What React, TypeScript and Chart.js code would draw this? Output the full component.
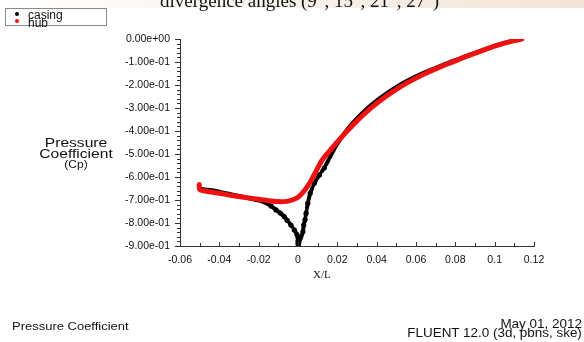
import React, { useEffect, useRef } from 'react';
import { Chart, registerables } from 'chart.js';

Chart.register(...registerables);

// ---- data ----
const casingX = [-0.0495, -0.045, -0.0427, -0.038, -0.0325, -0.027, -0.0197, -0.016, -0.0137, -0.0112, -0.009, -0.007, -0.0055, -0.0036, -0.0019, -0.0005, 0, 0, 0, 0.0002, 0.0025, 0.0029, 0.0036, 0.0041, 0.005, 0.0062, 0.0083, 0.0109, 0.0134, 0.016, 0.019, 0.022, 0.025, 0.03, 0.035, 0.04, 0.045, 0.05, 0.055, 0.06, 0.065, 0.07, 0.075, 0.08, 0.085, 0.09, 0.095, 0.1, 0.105, 0.11, 0.1135];
const casingY = [-0.652, -0.656, -0.659, -0.668, -0.678, -0.688, -0.703, -0.715, -0.726, -0.743, -0.757, -0.772, -0.788, -0.809, -0.830, -0.850, -0.862, -0.878, -0.890, -0.897, -0.838, -0.809, -0.785, -0.758, -0.714, -0.671, -0.627, -0.591, -0.560, -0.518, -0.470, -0.430, -0.393, -0.345, -0.303, -0.268, -0.237, -0.209, -0.184, -0.162, -0.143, -0.125, -0.108, -0.092, -0.076, -0.060, -0.045, -0.030, -0.017, -0.006, 0.000];

const hubX = [-0.0502, -0.05, -0.048, -0.045, -0.04, -0.035, -0.03, -0.025, -0.02, -0.015, -0.01, -0.006, -0.003, 0, 0.003, 0.006, 0.009, 0.012, 0.015, 0.02, 0.025, 0.03, 0.035, 0.04, 0.045, 0.05, 0.055, 0.06, 0.065, 0.07, 0.075, 0.08, 0.085, 0.09, 0.095, 0.1, 0.105, 0.11, 0.1138];
const hubY = [-0.633, -0.655, -0.660, -0.664, -0.671, -0.678, -0.685, -0.691, -0.697, -0.703, -0.707, -0.706, -0.700, -0.688, -0.662, -0.625, -0.578, -0.530, -0.497, -0.447, -0.400, -0.356, -0.316, -0.280, -0.248, -0.219, -0.193, -0.170, -0.149, -0.130, -0.112, -0.095, -0.078, -0.062, -0.046, -0.031, -0.018, -0.007, 0.000];

const seriesNames = ['casing', 'hub'];

const xTickValues = [-0.06, -0.04, -0.02, 0, 0.02, 0.04, 0.06, 0.08, 0.1, 0.12];
const xTickLabels = ['-0.06', '-0.04', '-0.02', '0', '0.02', '0.04', '0.06', '0.08', '0.1', '0.12'];
const yTickValues = [0, -0.1, -0.2, -0.3, -0.4, -0.5, -0.6, -0.7, -0.8, -0.9];
const yTickLabels = ['0.00e+00', '-1.00e-01', '-2.00e-01', '-3.00e-01', '-4.00e-01', '-5.00e-01', '-6.00e-01', '-7.00e-01', '-8.00e-01', '-9.00e-01'];

const headerText = 'divergence angles (9°, 15°, 21°, 27°)';
const xTitle = 'X/L';
const yTitleLines = ['Pressure', 'Coefficient', '(Cp)'];
const footerLeft = 'Pressure Coefficient';
const footerRight = ['May 01, 2012', 'FLUENT 12.0 (3d, pbns, ske)'];

const zip = (xs: number[], ys: number[]) => xs.map((x, i) => ({ x, y: ys[i] }));

const SANS = '"Liberation Sans", Arial, Helvetica, sans-serif';
const SERIF = '"Liberation Serif", "Times New Roman", serif';

const tickMarks = {
  id: 'fluentTicks',
  afterDraw(chart: any) {
    const { ctx, chartArea } = chart;
    const x = chart.scales.x;
    const y = chart.scales.y;
    ctx.save();
    ctx.strokeStyle = '#333';
    ctx.lineWidth = 1;
    for (let i = 0; i <= 45; i++) {
      const v = -i * 0.02;
      const py = Math.round(y.getPixelForValue(v)) + 0.5;
      const len = i % 5 === 0 ? 5 : 3;
      ctx.beginPath();
      ctx.moveTo(chartArea.left - len, py);
      ctx.lineTo(chartArea.left, py);
      ctx.stroke();
    }
    for (let i = 0; i <= 18; i++) {
      const v = -0.06 + i * 0.01;
      const px = Math.round(x.getPixelForValue(v)) + 0.5;
      const len = i % 2 === 0 ? 4 : 3;
      ctx.beginPath();
      ctx.moveTo(px, chartArea.bottom - len);
      ctx.lineTo(px, chartArea.bottom);
      ctx.stroke();
    }
    ctx.restore();
  },
};

export default function App() {
  const ref = useRef<HTMLCanvasElement | null>(null);

  useEffect(() => {
    if (!ref.current) return;
    const nearCusp = (c: any) => {
      const v = c.parsed ? c.parsed.x : 1;
      return v > -0.016 && v < 0.014;
    };
    const chart = new Chart(ref.current, {
      type: 'scatter',
      data: {
        datasets: [
          {
            label: seriesNames[0],
            data: zip(casingX, casingY),
            showLine: true,
            borderColor: '#000000',
            backgroundColor: '#000000',
            borderWidth: 4,
            pointRadius: (c: any) => (nearCusp(c) ? 2.6 : 0),
            pointBorderWidth: 0,
            tension: 0.15,
            order: 1,
            segment: {
              borderDash: (c: any) => {
                const x0 = c.p0.parsed.x;
                const x1 = c.p1.parsed.x;
                if (x0 === 0 && x1 === 0) return undefined;
                return x0 > -0.009 && x0 < 0.014 ? [5, 3] : undefined;
              },
            },
          },
          {
            label: seriesNames[1],
            data: zip(hubX, hubY),
            showLine: true,
            borderColor: '#ee1111',
            backgroundColor: '#ee1111',
            borderWidth: 5,
            pointRadius: 0,
            tension: 0.3,
            order: 0,
          },
        ],
      },
      options: {
        responsive: false,
        animation: false,
        devicePixelRatio: 1,
        layout: { padding: { left: 0, top: 39, right: 50, bottom: 0 } },
        plugins: { legend: { display: false }, tooltip: { enabled: false } },
        elements: { line: { borderCapStyle: 'round', borderJoinStyle: 'round' } },
        scales: {
          x: {
            type: 'linear',
            min: -0.06,
            max: 0.12,
            afterBuildTicks: (s: any) => {
              s.ticks = xTickValues.map((v) => ({ value: v }));
            },
            afterFit: (s: any) => {
              s.height = 342 - 246;
              s.paddingLeft = 0;
              s.paddingRight = 0;
            },
            ticks: {
              autoSkip: false,
              maxRotation: 0,
              padding: 8,
              color: '#111',
              font: { family: SANS, size: 10.5 },
              callback: (_v: any, i: number) => xTickLabels[i],
            },
            grid: { display: false, drawTicks: false, tickLength: 0 },
            border: { display: true, color: '#333', width: 1 },
          },
          y: {
            type: 'linear',
            min: -0.9,
            max: 0,
            afterBuildTicks: (s: any) => {
              s.ticks = yTickValues.map((v) => ({ value: v }));
            },
            afterFit: (s: any) => {
              s.width = 180;
              s.paddingTop = 0;
              s.paddingBottom = 0;
            },
            ticks: {
              autoSkip: false,
              padding: 10,
              color: '#111',
              font: { family: SANS, size: 10.5 },
              callback: (_v: any, i: number) => yTickLabels[i],
            },
            grid: { display: false, drawTicks: false, tickLength: 0 },
            border: { display: true, color: '#333', width: 1 },
          },
        },
      } as any,
      plugins: [tickMarks],
    });
    return () => chart.destroy();
  }, []);

  const abs = (s: React.CSSProperties): React.CSSProperties => ({ position: 'absolute', whiteSpace: 'nowrap', ...s });

  return (
    <div style={{ position: 'fixed', left: 0, top: 0, width: 584, height: 342, background: '#ffffff', overflow: 'hidden', fontFamily: SANS, color: '#111' }}>
      <canvas ref={ref} width={584} height={342} style={{ position: 'absolute', left: 0, top: 0 }} />
      {/* header band (cropped slide title) */}
      <div style={abs({ left: 0, top: 0, width: 584, height: 8, background: 'linear-gradient(to right, #ffffff 0%, #faf5ef 40%, #f3e4d8 100%)' })} />
      <div style={abs({ left: 160, top: -9, fontFamily: SERIF, fontSize: 19, lineHeight: '19px', color: '#111' })}>{headerText}</div>
      {/* legend */}
      <div style={abs({ left: 5, top: 8, width: 100, height: 16, border: '1px solid #8a8a8a', background: '#fff' })}>
        <div style={abs({ left: 9, top: 3, width: 4, height: 4, borderRadius: 2, background: '#000' })} />
        <div style={abs({ left: 9, top: 10, width: 4, height: 4, borderRadius: 2, background: '#ee1111' })} />
        <div style={abs({ left: 22, top: 0, fontSize: 12, lineHeight: '8px', paddingTop: 2 })}>{seriesNames[0]}</div>
        <div style={abs({ left: 22, top: 8, fontSize: 12, lineHeight: '8px', paddingTop: 2 })}>{seriesNames[1]}</div>
      </div>
      {/* y title */}
      <div style={abs({ left: 36, top: 137, width: 80, textAlign: 'center', fontSize: 13, lineHeight: '11px', transform: 'scaleX(1.2)', transformOrigin: '40px 0' })}>
        <div>{yTitleLines[0]}</div>
        <div>{yTitleLines[1]}</div>
        <div style={{ fontSize: 10 }}>{yTitleLines[2]}</div>
      </div>
      {/* x title */}
      <div style={abs({ left: 313, top: 268, fontFamily: SERIF, fontSize: 11 })}>{xTitle}</div>
      {/* footer */}
      <div style={abs({ left: 12, top: 320, fontSize: 11, transform: 'scaleX(1.18)', transformOrigin: '0 0' })}>{footerLeft}</div>
      <div style={abs({ right: 2, top: 320, fontSize: 12, lineHeight: '9px', textAlign: 'right', transform: 'scaleX(1.12)', transformOrigin: '100% 0' })}>
        <div>{footerRight[0]}</div>
        <div>{footerRight[1]}</div>
      </div>
    </div>
  );
}
